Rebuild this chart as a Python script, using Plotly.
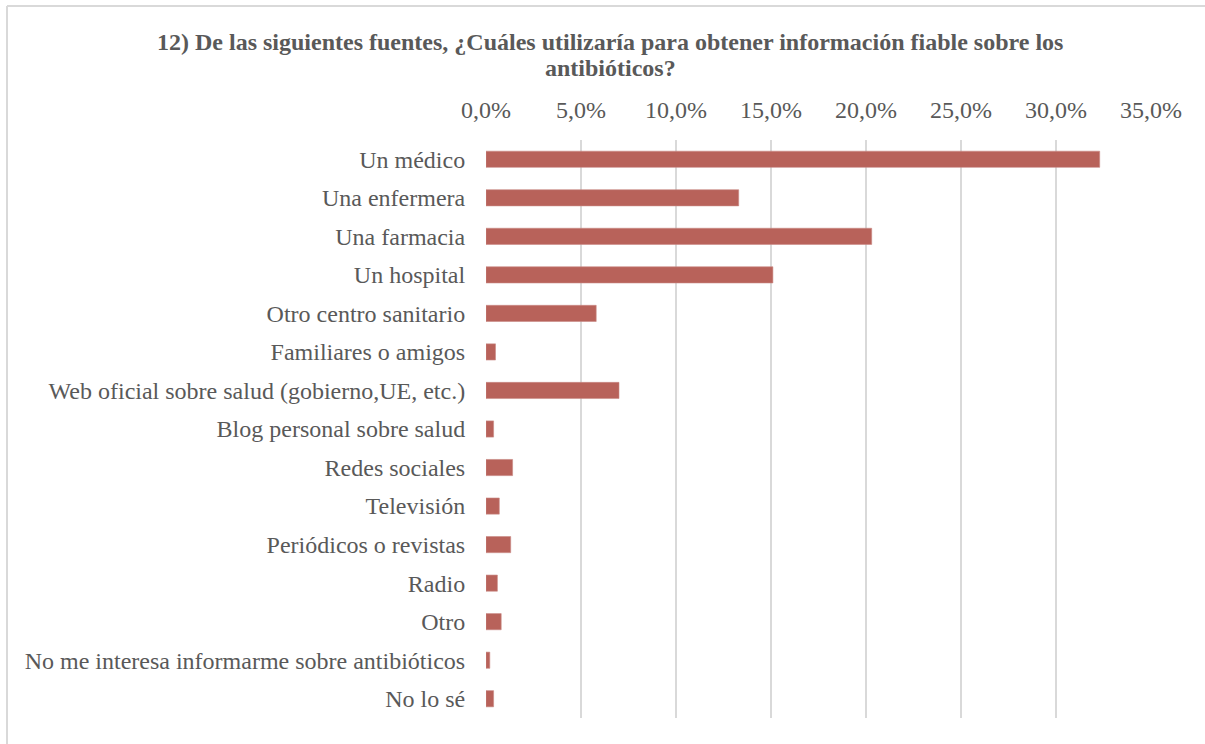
import plotly.graph_objects as go

categorias = [
    "Un médico",
    "Una enfermera",
    "Una farmacia",
    "Un hospital",
    "Otro centro sanitario",
    "Familiares o amigos",
    "Web oficial sobre salud (gobierno,UE, etc.)",
    "Blog personal sobre salud",
    "Redes sociales",
    "Televisión",
    "Periódicos o revistas",
    "Radio",
    "Otro",
    "No me interesa informarme sobre antibióticos",
    "No lo sé",
]
porcentajes = [32.3, 13.3, 20.3, 15.1, 5.8, 0.5, 7.0, 0.4, 1.4, 0.7, 1.3, 0.6, 0.8, 0.2, 0.4]

tick_vals = [0, 5, 10, 15, 20, 25, 30, 35]
tick_text = ["0,0%", "5,0%", "10,0%", "15,0%", "20,0%", "25,0%", "30,0%", "35,0%"]

titulo = [
    "12) De las siguientes fuentes, ¿Cuáles utilizaría para obtener información fiable sobre los",
    "antibióticos?",
]

W, H = 1205, 744
FONT = "Liberation Serif"

fig = go.Figure(
    go.Bar(
        x=porcentajes,
        y=categorias,
        orientation="h",
        marker=dict(color="#B8625A", line=dict(color="#C98A84", width=0.6)),
        width=0.42,
    )
)

L, R, T, B = 486, 54, 140, 26
PW = W - L - R
PH = H - T - B

def px_x(x):
    return (x - L) / PW

def px_y(y):
    return (H - B - y) / PH

title_annotations = [
    dict(text=f"<b>{line}</b>", xref="paper", yref="paper",
         x=px_x(610), y=px_y(yc), xanchor="center", yanchor="middle",
         showarrow=False, font=dict(family=FONT, size=24, color="#595959"))
    for line, yc in zip(titulo, [42, 68])
]

fig.update_layout(
    width=W,
    height=H,
    paper_bgcolor="white",
    plot_bgcolor="white",
    margin=dict(l=L, r=R, t=T, b=B),
    showlegend=False,
    font=dict(family=FONT, color="#595959", size=24),
    annotations=title_annotations,
    shapes=[
        # chart frame, open on the right and bottom
        dict(type="line", xref="paper", yref="paper",
             x0=px_x(7), x1=1.2, y0=px_y(6), y1=px_y(6),
             line=dict(color="#D9D9D9", width=2)),
        dict(type="line", xref="paper", yref="paper",
             x0=px_x(7), x1=px_x(7), y0=-0.2, y1=px_y(6),
             line=dict(color="#D9D9D9", width=2)),
    ],
)

fig.update_xaxes(
    side="top",
    range=[0, 35],
    tickvals=tick_vals,
    ticktext=tick_text,
    showgrid=True,
    gridcolor="#D9D9D9",
    gridwidth=2,
    zeroline=False,
    showline=False,
    ticks="outside",
    ticklen=11,
    tickcolor="rgba(0,0,0,0)",
    tickfont=dict(family=FONT, size=24, color="#595959"),
    fixedrange=True,
)
fig.update_yaxes(
    autorange="reversed",
    showgrid=False,
    showline=False,
    zeroline=False,
    ticks="outside",
    ticklen=15,
    tickcolor="rgba(0,0,0,0)",
    tickfont=dict(family=FONT, size=24, color="#595959"),
    fixedrange=True,
)

fig.write_html("out.html")
